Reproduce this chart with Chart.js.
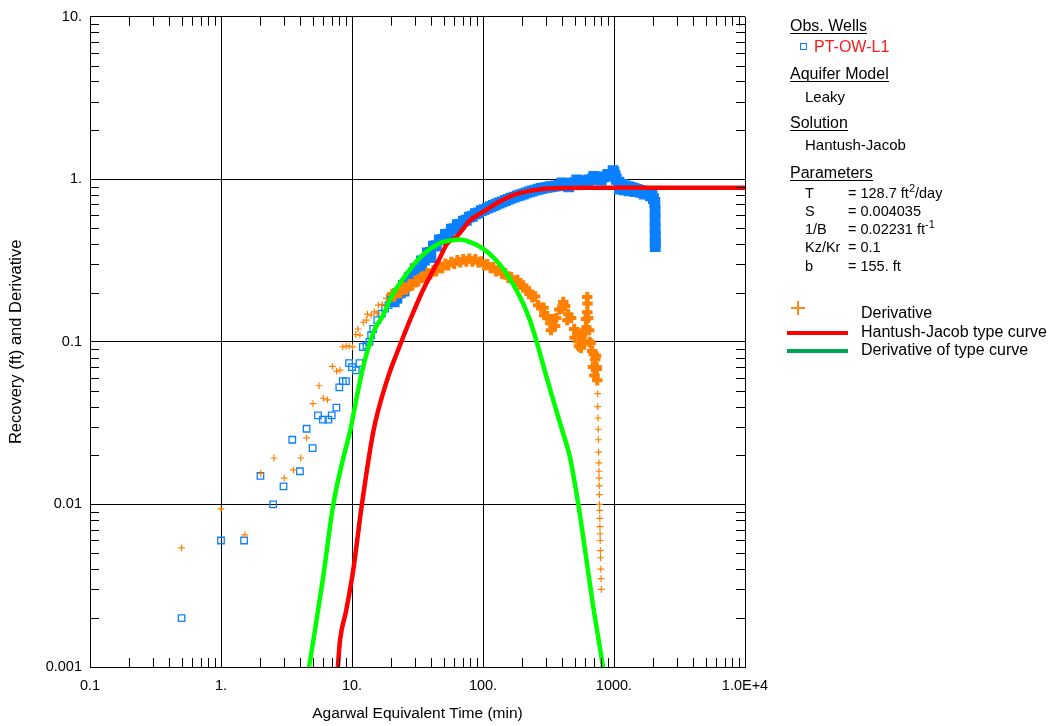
<!DOCTYPE html>
<html><head><meta charset="utf-8">
<script src="https://cdn.jsdelivr.net/npm/chart.js@4.4.1/dist/chart.umd.min.js"></script>
<style>
html,body{margin:0;padding:0;background:#fff;}
#wrap{position:relative;width:1053px;height:726px;font-family:'Liberation Sans',Arial,sans-serif;font-size:15px;color:#000;overflow:hidden;}
#c{position:absolute;left:0;top:0;}
.t{position:absolute;line-height:16px;white-space:nowrap;}
.b{font-size:16px;}
.p{font-size:14.5px;}
.h{border-bottom:1px solid #000;font-size:16px;line-height:15px;}
sup{font-size:11px;vertical-align:6px;line-height:0;}
.sq{position:absolute;width:5px;height:5px;border:1.3px solid #0a80ff;}
.bar{position:absolute;height:4px;}
</style></head><body>
<div id="wrap">
<canvas id="c" width="1053" height="726"></canvas>
<div class="t h" style="left:790px;top:18px;">Obs. Wells</div>
<div class="sq" style="left:800px;top:43px;"></div>
<div class="t b" style="left:814px;top:39px;color:#ff1a1a;">PT-OW-L1</div>
<div class="t h" style="left:790px;top:66px;">Aquifer Model</div>
<div class="t" style="left:805px;top:89px;">Leaky</div>
<div class="t h" style="left:790px;top:115px;">Solution</div>
<div class="t" style="left:805px;top:137px;">Hantush-Jacob</div>
<div class="t h" style="left:790px;top:165px;">Parameters</div>
<div class="t p" style="left:805px;top:185px;">T</div><div class="t p" style="left:848px;top:185px;">= 128.7 ft<sup>2</sup>/day</div>
<div class="t p" style="left:805px;top:203px;">S</div><div class="t p" style="left:848px;top:203px;">= 0.004035</div>
<div class="t p" style="left:805px;top:221px;">1/B</div><div class="t p" style="left:848px;top:221px;">= 0.02231 ft<sup>-1</sup></div>
<div class="t p" style="left:805px;top:239px;">Kz/Kr</div><div class="t p" style="left:848px;top:239px;">= 0.1</div>
<div class="t p" style="left:805px;top:258px;">b</div><div class="t p" style="left:848px;top:258px;">= 155. ft</div>
<div class="bar" style="left:791px;top:307px;width:14px;height:2px;background:#ff8c1a;"></div>
<div class="bar" style="left:797px;top:301px;width:2px;height:14px;background:#ff8c1a;"></div>
<div class="t b" style="left:861px;top:305px;">Derivative</div>
<div class="bar" style="left:787px;top:331px;width:61px;background:#ff0000;"></div>
<div class="t b" style="left:861px;top:324px;">Hantush-Jacob type curve</div>
<div class="bar" style="left:787px;top:349px;width:61px;background:#00a651;"></div>
<div class="t b" style="left:861px;top:342px;">Derivative of type curve</div>
</div>
<script>
// ---- data ----
const xTickValues = [0.1, 1, 10, 100, 1000, 10000];
const xTickLabels = ['0.1', '1.', '10.', '100.', '1000.', '1.0E+4'];
const yTickValues = [0.001, 0.01, 0.1, 1, 10];
const yTickLabels = ['0.001', '0.01', '0.1', '1.', '10.'];

// Observation well PT-OW-L1 (recovery, ft)
const obsTime = [0.5,1.0,1.5,2.0,2.5,3.0,3.5,4.0,4.5,5.0,5.5,6.0,6.6,7.0,7.6,8.0,8.5,9.0,9.5,10.0,10.7,11.4,12.1,12.9,13.6,14.0,14.5,15.6,16.9,17.9,19.0,
 20,21,22.2,23.4,24.7,26,27.4,28.9,30.5,32.1,33.9,35.7,37.6,39.7,41.8,44,46.4,49,51.6,54.4,57.3,60.4,63.7,67.1,70.8,74.6,78.6,82.9,87.4,92.1,97.1,
 102,108,114,120,126,133,140,148,156,164,173,183,192,203,214,225,237,250,264,278,293,309,326,344,362,382,402,424,447,471,497,524,552,582,613,646,681,718,757,798,841,887,935,985,
 1000,1020,1040,1090,1150,1220,1280,1350,1420,1500,1580,1670,1760,1850,1950,2000,2050,2060,2060,2060,2065,2065,2065,
 400,450,520,600,700,800,900,1100,1200,1300,1450,1600,1700,1900,22,25,29,34,40];
const obsValue = [0.002,0.006,0.006,0.015,0.01,0.0129,0.025,0.016,0.0292,0.0222,0.0353,0.0332,0.0332,0.0353,0.0394,0.0525,0.0574,0.0574,0.074,0.07,0.0668,0.074,0.093,0.095,0.1,0.11,0.12,0.136,0.149,0.16,0.168,
 0.182,0.176,0.198,0.2,0.222,0.226,0.25,0.252,0.282,0.284,0.315,0.318,0.352,0.355,0.388,0.39,0.424,0.426,0.458,0.46,0.494,0.496,0.525,0.528,0.553,0.56,0.585,0.592,0.614,0.622,0.642,
 0.65,0.665,0.678,0.69,0.702,0.715,0.726,0.74,0.752,0.765,0.776,0.79,0.8,0.812,0.824,0.836,0.847,0.858,0.868,0.878,0.885,0.892,0.9,0.905,0.91,0.916,0.921,0.928,0.936,0.944,0.952,0.958,0.964,0.972,0.98,0.99,1.0,1.01,1.02,1.028,1.035,1.045,1.065,1.13,
 1.1,1.05,1.0,0.96,0.93,0.91,0.9,0.89,0.878,0.865,0.855,0.845,0.83,0.815,0.8,0.76,0.72,0.64,0.56,0.5,0.45,0.41,0.385,
 0.95,0.9,0.99,0.94,1.04,0.99,1.07,0.87,0.86,0.85,0.84,0.83,0.81,0.79,0.185,0.205,0.235,0.28,0.33];

// Derivative of observations
const derivTime = [0.5,1.0,1.52,2.01,2.54,3.04,3.57,4.06,4.5,5.04,5.6,6.04,6.5,7.1,7.63,8.1,8.5,9.0,9.5,10.1,10.7,11.1,11.5,12.2,12.9,13.1,14.0,14.8,15.5,15.9,17.0,18.3,19.5,
 20.3,21,22.2,23.4,24.7,26,27.4,28.9,30.5,32.1,33.9,35.7,37.6,39.7,41.8,44,46.4,49,51.6,54.4,57.3,60.4,63.7,67.1,70.8,74.6,78.6,82.9,87.4,92.1,97.1,
 102,108,114,120,126,133,140,148,156,164,173,183,192,203,214,225,237,250,264,278,293,309,326,344,362,382,402,424,447,471,497,524,552,570,590,610,625,635,646,663,681,700,718,735,745,
 750,752,755,758,760,763,766,768,770,772,774,775,777,779,781,783,785,787,790,793,797,800,
 290,330,355,410,440,500,540,560,595,615,625,628,650,690,710,730,740];
const derivValue = [0.0054,0.0094,0.0065,0.0155,0.0193,0.0145,0.0163,0.0193,0.0257,0.0417,0.0537,0.045,0.044,0.0706,0.066,0.067,0.093,0.094,0.094,0.093,0.111,0.12,0.11,0.132,0.136,0.148,0.146,0.153,0.15,0.168,0.17,0.185,0.193,
 0.197,0.19,0.205,0.2,0.215,0.21,0.226,0.222,0.238,0.236,0.252,0.248,0.264,0.26,0.276,0.272,0.29,0.284,0.302,0.296,0.31,0.302,0.318,0.308,0.322,0.312,0.325,0.312,0.322,0.308,0.312,
 0.296,0.3,0.284,0.288,0.272,0.276,0.262,0.264,0.248,0.25,0.236,0.24,0.224,0.222,0.206,0.204,0.188,0.19,0.168,0.162,0.146,0.144,0.13,0.138,0.14,0.158,0.16,0.166,0.148,0.14,0.12,0.112,0.1,0.11,0.118,0.138,0.152,0.14,0.118,0.098,0.088,0.084,0.078,0.07,0.058,
 0.048,0.04,0.034,0.029,0.025,0.021,0.018,0.016,0.0145,0.013,0.0115,0.01,0.0092,0.0082,0.0073,0.0066,0.006,0.0052,0.0047,0.004,0.0035,0.003,
 0.162,0.118,0.125,0.176,0.136,0.106,0.094,0.092,0.1,0.122,0.189,0.172,0.1,0.07,0.062,0.082,0.068];

// Hantush-Jacob type curve
const typeCurveTime = [7.8,8.1,9,10.2,11.9,14.6,18.5,23.2,27.7,35,47,53,63,80,100,130,170,230,306,450,700,1000,3000,10000];
const typeCurveValue = [0.001,0.00146,0.0022,0.0039,0.01,0.0285,0.058,0.095,0.136,0.21,0.33,0.4,0.445,0.56,0.63,0.72,0.8,0.85,0.877,0.885,0.887,0.888,0.888,0.888];

// Derivative of type curve
const typeDerivTime = [4.7,5.1,6,7.2,8.4,9.7,10.4,12,14.6,17.2,20,23.2,26.2,33,47,58,67,80,100,125,151,191,228,257,300,344,400,461,534,600,695,760,824];
const typeDerivValue = [0.001,0.0015,0.0035,0.01,0.018,0.0285,0.038,0.067,0.115,0.145,0.19,0.229,0.263,0.33,0.405,0.422,0.426,0.41,0.375,0.32,0.263,0.19,0.136,0.1,0.064,0.0437,0.029,0.0195,0.01,0.0053,0.00233,0.0015,0.001];

const FONT = "'Liberation Sans', Arial, sans-serif";
const BLUE = '#0a80ff';
const pts = (xs, ys) => xs.map((x, i) => ({x: x, y: ys[i]}));
const denseObs = c => c.raw && c.raw.x >= 19.9;
const denseDeriv = c => c.raw && c.raw.x >= 20 && c.raw.x <= 746;

const minorTicks = {
  id: 'minorTicks',
  afterDraw(chart) {
    const {ctx, chartArea: a, scales: {x, y}} = chart;
    const L = 9;
    ctx.save();
    ctx.strokeStyle = '#000';
    ctx.lineWidth = 1;
    ctx.beginPath();
    for (let d = -1; d <= 3; d++) {
      for (let m = 2; m <= 9; m++) {
        const px = Math.round(x.getPixelForValue(m * Math.pow(10, d))) + 0.5;
        ctx.moveTo(px, a.bottom); ctx.lineTo(px, a.bottom - L);
        ctx.moveTo(px, a.top); ctx.lineTo(px, a.top + L);
      }
    }
    for (let d = -3; d <= 0; d++) {
      for (let m = 2; m <= 9; m++) {
        const py = Math.round(y.getPixelForValue(m * Math.pow(10, d))) + 0.5;
        ctx.moveTo(a.left, py); ctx.lineTo(a.left + L, py);
        ctx.moveTo(a.right, py); ctx.lineTo(a.right - L, py);
      }
    }
    ctx.stroke();
    ctx.restore();
  }
};

new Chart(document.getElementById('c'), {
  type: 'scatter',
  data: {
    datasets: [
      {label: 'PT-OW-L1', data: pts(obsTime, obsValue), order: 4,
       pointStyle: 'rect',
       pointRadius: c => denseObs(c) ? 6.6 : 4.6,
       borderWidth: c => denseObs(c) ? 1.5 : 1.3,
       borderColor: BLUE,
       backgroundColor: c => denseObs(c) ? BLUE : 'rgba(0,0,0,0)', showLine: false},
      {label: 'Derivative', data: pts(derivTime, derivValue), order: 3,
       pointStyle: 'cross',
       pointRadius: c => denseDeriv(c) ? 5.2 : 3.4,
       borderWidth: c => denseDeriv(c) ? 4 : 1.2,
       borderColor: '#ff8000', backgroundColor: '#ff8000', showLine: false},
      {label: 'Hantush-Jacob type curve', data: pts(typeCurveTime, typeCurveValue), order: 2,
       showLine: true, pointRadius: 0, borderWidth: 4.5, borderColor: '#ff0000',
       cubicInterpolationMode: 'monotone', fill: false},
      {label: 'Derivative of type curve', data: pts(typeDerivTime, typeDerivValue), order: 1,
       showLine: true, pointRadius: 0, borderWidth: 4.5, borderColor: '#00ff00',
       cubicInterpolationMode: 'monotone', fill: false}
    ]
  },
  options: {
    responsive: false,
    devicePixelRatio: 1,
    animation: false,
    layout: {padding: {left: 0, top: 16, right: 308, bottom: 0}},
    plugins: {legend: {display: false}, tooltip: {enabled: false}},
    scales: {
      x: {
        type: 'logarithmic', min: 0.1, max: 10000,
        afterFit: s => { s.height = 59; },
        afterBuildTicks: s => { s.ticks = xTickValues.map(v => ({value: v})); },
        ticks: {
          autoSkip: false, maxRotation: 0, padding: 10, color: '#000',
          font: {family: FONT, size: 14.5},
          callback: v => { const i = xTickValues.indexOf(v); return i >= 0 ? xTickLabels[i] : ''; }
        },
        grid: {color: '#000', lineWidth: 1, drawTicks: false},
        border: {color: '#000', width: 1},
        title: {display: true, text: 'Agarwal Equivalent Time (min)', color: '#000',
                font: {family: FONT, size: 15.5}, padding: {top: 0, bottom: 3}}
      },
      y: {
        type: 'logarithmic', min: 0.001, max: 10,
        afterFit: s => { s.width = 90; },
        afterBuildTicks: s => { s.ticks = yTickValues.map(v => ({value: v})); },
        ticks: {
          autoSkip: false, padding: 8, color: '#000',
          font: {family: FONT, size: 14.5},
          callback: v => { const i = yTickValues.indexOf(v); return i >= 0 ? yTickLabels[i] : ''; }
        },
        grid: {color: '#000', lineWidth: 1, drawTicks: false},
        border: {color: '#000', width: 1},
        title: {display: true, text: 'Recovery (ft) and Derivative', color: '#000',
                font: {family: FONT, size: 16.5}, padding: {top: 7, bottom: 0}}
      }
    }
  },
  plugins: [minorTicks]
});
</script>
</body></html>
